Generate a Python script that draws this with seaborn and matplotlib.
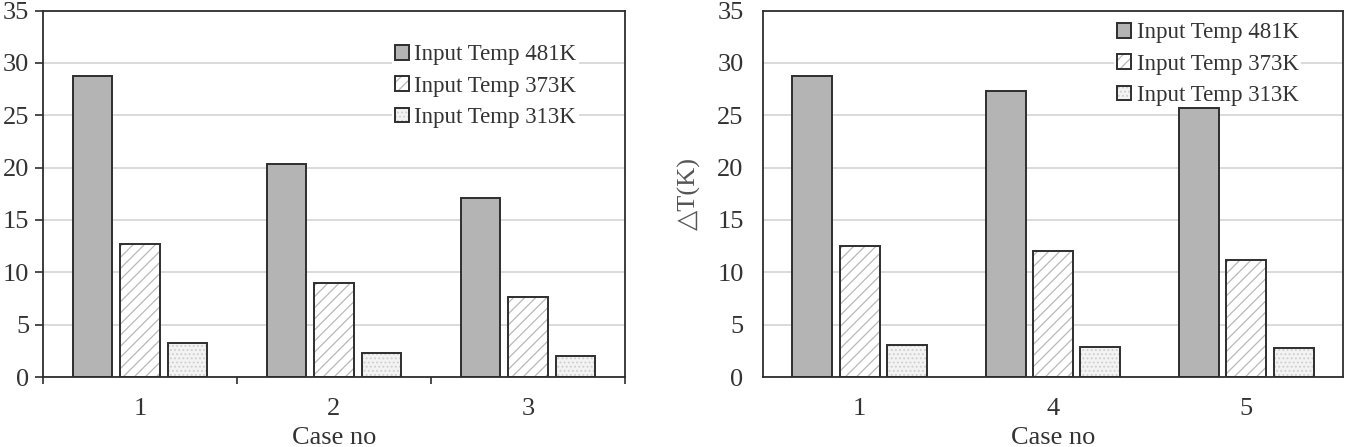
import matplotlib
matplotlib.use("Agg")
import matplotlib.pyplot as plt
import matplotlib.colors as mcolors
from matplotlib.ticker import MultipleLocator, FixedLocator
import seaborn as sns
import pandas as pd

# ---- data ----
series_labels = ["Input Temp 481K", "Input Temp 373K", "Input Temp 313K"]

left_cases = ["1", "2", "3"]
left_481 = [28.7, 20.3, 17.1]
left_373 = [12.7, 9.0, 7.6]
left_313 = [3.2, 2.3, 2.0]

right_cases = ["1", "4", "5"]
right_481 = [28.7, 27.3, 25.7]
right_373 = [12.5, 12.0, 11.2]
right_313 = [3.1, 2.9, 2.8]

xlabel = "Case no"
ylabel_right = "\u25b3T(K)"

# ---- style ----
sns.set_theme(style="white")
plt.rcParams["font.family"] = ["Liberation Serif", "DejaVu Sans"]
plt.rcParams["hatch.linewidth"] = 0.9

FS = 19
EDGE = "#2e2e2e"
TXT = "#333333"
fills = ["#b4b4b4", "#ffffff", "#f3f3f3"]
hatches = ["", "///", "...."]
hatch_colors = ["#b4b4b4", "#b8b8b8", "#d0d0d0"]


def make_df(cases, a, b, c):
    rows = []
    for vals, lab in zip([a, b, c], series_labels):
        for cs, v in zip(cases, vals):
            rows.append({"case": cs, "dT": v, "temp": lab})
    return pd.DataFrame(rows)


fig = plt.figure(figsize=(13.56, 4.47), dpi=100)
W, H = 1356, 447
axL = fig.add_axes([43 / W, (H - 377) / H, 582 / W, 366.5 / H])
axR = fig.add_axes([763 / W, (H - 377) / H, 580 / W, 366.5 / H])


def draw(ax, df, cases):
    sns.barplot(data=df, x="case", y="dT", hue="temp", order=cases,
                hue_order=series_labels, palette=fills, width=0.735, gap=0.16,
                edgecolor=EDGE, linewidth=1.4, errorbar=None, saturation=1,
                legend=False, ax=ax)
    for cont, h, hc in zip(ax.containers, hatches, hatch_colors):
        for p in cont.patches:
            p.set_hatch(h)
            p.set_edgecolor(EDGE)
            p._hatch_color = mcolors.to_rgba(hc)
    ax.set_ylim(0, 35)
    ax.yaxis.set_major_locator(MultipleLocator(5))
    ax.set_axisbelow(True)
    ax.grid(axis="y", color="#d4d4d4", linewidth=1.2)
    ax.grid(axis="x", visible=False)
    for s in ax.spines.values():
        s.set_visible(True)
        s.set_color(EDGE)
        s.set_linewidth(1.3)
    ax.set_xlabel(xlabel, fontsize=FS, color=TXT, labelpad=5)
    for lbl in ax.get_xticklabels() + ax.get_yticklabels():
        lbl.set_fontsize(FS)
        lbl.set_color(TXT)
    return ax


dfL = make_df(left_cases, left_481, left_373, left_313)
dfR = make_df(right_cases, right_481, right_373, right_313)
draw(axL, dfL, left_cases)
draw(axR, dfR, right_cases)

# left axis ticks
axL.set_ylabel("")
axL.tick_params(axis="y", which="major", direction="out", length=6, width=1.2,
                color=EDGE, pad=4, left=True, labelsize=FS, labelcolor=TXT)
axL.tick_params(axis="x", which="major", length=0, pad=15, labelsize=FS, labelcolor=TXT)
axL.xaxis.set_minor_locator(FixedLocator([-0.5, 0.5, 1.5, 2.5]))
axL.tick_params(axis="x", which="minor", direction="out", length=5, width=1.2,
                color=EDGE, bottom=True)

# right axis ticks
axR.set_ylabel(ylabel_right, fontsize=FS, color="#555555", labelpad=12)
axR.tick_params(axis="y", which="major", length=0, pad=14, labelsize=FS, labelcolor=TXT)
axR.tick_params(axis="x", which="major", length=0, pad=15, labelsize=FS, labelcolor=TXT)

legend_kw = dict(fontsize=16.5, frameon=True, fancybox=False, edgecolor="none",
                 facecolor="white", framealpha=1, handlelength=0.6,
                 handleheight=0.6, handletextpad=0.25, labelspacing=0.45,
                 borderpad=0.12, borderaxespad=0, loc="upper left")
legL = axL.legend(axL.containers, series_labels, bbox_to_anchor=(0.600, 0.915), **legend_kw)
legR = axR.legend(axR.containers, series_labels, bbox_to_anchor=(0.606, 0.975), **legend_kw)
for leg in (legL, legR):
    leg.set_zorder(0.8)
    for t in leg.get_texts():
        t.set_color(TXT)

fig.savefig("out.png", dpi=100)
